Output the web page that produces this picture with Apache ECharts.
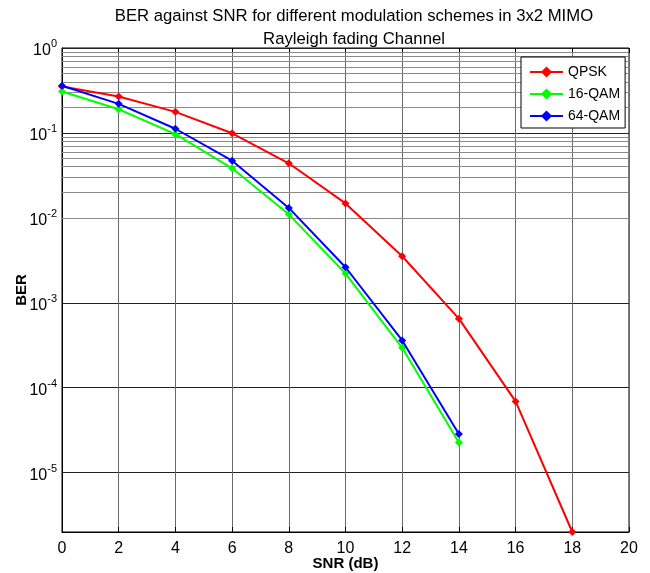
<!DOCTYPE html>
<html><head><meta charset="utf-8">
<script src="https://cdn.jsdelivr.net/npm/echarts@6/dist/echarts.min.js"></script>
<style>html,body{margin:0;padding:0;background:#fff}#c{width:650px;height:573px}</style>
</head><body><div id="c"></div>
<script>
const snr = [0, 2, 4, 6, 8, 10, 12, 14, 16, 18];
const qpsk = [0.352, 0.268, 0.177, 0.099, 0.0439, 0.0148, 0.00353, 6.5e-4, 6.9e-5, 2.0e-6];
const qam16 = [0.307, 0.190, 0.0966, 0.0383, 0.0110, 0.00221, 2.95e-4, 2.27e-5];
const qam64 = [0.359, 0.220, 0.112, 0.0471, 0.0131, 0.00262, 3.6e-4, 2.85e-5];
const xTicks = [0, 2, 4, 6, 8, 10, 12, 14, 16, 18, 20];
const yDecades = [1e-5, 1e-4, 1e-3, 1e-2, 1e-1, 1];
const minorMultipliers = [2, 3, 4, 5, 6, 7, 8, 9];
const yMin = 2e-6, yMax = 1;

const FONT = '"Liberation Sans",Arial,sans-serif';
const pairs = (ys) => ys.map((v, i) => [snr[i], v]);

const minorLines = [];
for (let k = -6; k <= -1; k++) {
  for (const m of minorMultipliers) {
    const v = m * Math.pow(10, k);
    if (v > yMin * 1.0001 && v < yMax) minorLines.push({ yAxis: v });
  }
}

const chart = echarts.init(document.getElementById('c'), null, { renderer: 'canvas' });
chart.setOption({
  animation: false,
  backgroundColor: '#fff',
  title: {
    text: 'BER against SNR for different modulation schemes in 3x2 MIMO\nRayleigh fading Channel',
    left: 349, textAlign: 'center', top: 0,
    textStyle: { fontFamily: FONT, fontSize: 16.7, fontWeight: 'normal', color: '#000', lineHeight: 23 }
  },
  legend: {
    orient: 'vertical', left: 521, top: 57, z: 20,
    backgroundColor: '#fff', borderColor: '#000', borderWidth: 1,
    padding: [8, 5, 5, 8], itemWidth: 33, itemHeight: 14, itemGap: 8,
    textStyle: { fontFamily: FONT, fontSize: 14, color: '#000' },
    data: ['QPSK', '16-QAM', '64-QAM']
  },
  grid: {
    left: 62, right: 21, top: 48, bottom: 41, show: true, borderColor: '#000', borderWidth: 1,
    backgroundColor: 'transparent', containLabel: false, outerBoundsMode: 'none'
  },
  xAxis: [{
    type: 'value', min: 0, max: 20, interval: 2,
    name: 'SNR (dB)', nameLocation: 'middle', nameGap: 24, nameMoveOverlap: false,
    nameTextStyle: { fontFamily: FONT, fontWeight: 'bold', fontSize: 15, color: '#000' },
    axisLine: { show: true, lineStyle: { color: '#000', width: 1 } },
    axisTick: { show: true, inside: true, length: 5, lineStyle: { color: '#000' } },
    axisLabel: { fontFamily: FONT, fontSize: 16, color: '#000', margin: 9 },
    splitLine: { show: true, lineStyle: { color: '#6a6a6a', width: 1 } }
  }, {
    type: 'value', min: 0, max: 20, interval: 2, position: 'top',
    axisLine: { show: false }, axisLabel: { show: false }, splitLine: { show: false },
    axisTick: { show: true, inside: true, length: 5, lineStyle: { color: '#000' } }
  }],
  yAxis: {
    type: 'log', logBase: 10, min: yMin, max: yMax,
    name: 'BER', nameLocation: 'middle', nameGap: 33, nameMoveOverlap: false,
    nameTextStyle: { fontFamily: FONT, fontWeight: 'bold', fontSize: 15, color: '#000' },
    axisLine: { show: true, lineStyle: { color: '#000', width: 1 } },
    axisTick: { show: false },
    axisLabel: {
      margin: 5,
      formatter: (v) => {
        const e = Math.round(Math.log10(v));
        if (Math.abs(Math.log10(v) - e) > 1e-6) return '';
        if (!yDecades.some(d => Math.abs(Math.log10(d) - e) < 1e-6)) return '';
        return '{b|10}{s|' + e + '}';
      },
      rich: {
        b: { fontFamily: FONT, fontSize: 16, color: '#000', padding: [6, 0, 0, 0] },
        s: { fontFamily: FONT, fontSize: 11, color: '#000', padding: [0, 0, 8, 0] }
      }
    },
    splitLine: { show: true, lineStyle: { color: '#222', width: 1 } }
  },
  series: [
    {
      name: 'QPSK', type: 'line', data: pairs(qpsk), symbol: 'diamond', symbolSize: 8,
      lineStyle: { color: '#ff0000', width: 2 }, itemStyle: { color: '#ff0000' }, z: 5
    },
    {
      name: '16-QAM', type: 'line', data: pairs(qam16), symbol: 'diamond', symbolSize: 8,
      lineStyle: { color: '#00ff00', width: 2 }, itemStyle: { color: '#00ff00' }, z: 5
    },
    {
      name: '64-QAM', type: 'line', data: pairs(qam64), symbol: 'diamond', symbolSize: 8,
      lineStyle: { color: '#0000ff', width: 2 }, itemStyle: { color: '#0000ff' }, z: 6
    },
    {
      name: 'minorGrid', type: 'line', data: [], silent: true, z: 1,
      markLine: {
        silent: true, symbol: 'none', label: { show: false }, animation: false, z: 1,
        lineStyle: { color: '#8a8a8a', width: 1, type: 'solid' },
        data: minorLines
      }
    }
  ]
});
</script></body></html>
